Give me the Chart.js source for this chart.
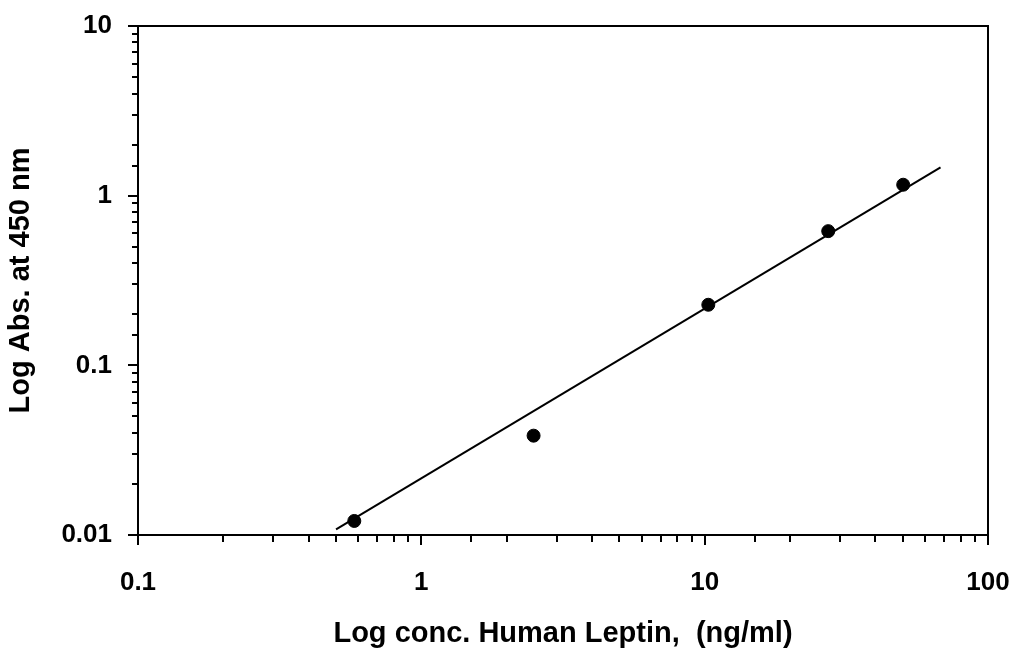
<!DOCTYPE html>
<html>
<head>
<meta charset="utf-8">
<script src="https://cdn.jsdelivr.net/npm/chart.js@4.4.1/dist/chart.umd.min.js"></script>
<style>
  html, body { margin: 0; padding: 0; background: #fff; }
  #wrap { width: 1015px; height: 648px; }
</style>
</head>
<body>
<div id="wrap"><canvas id="leptinChart" width="1015" height="648"></canvas></div>
<script>
// Dados
const concX = [0.58, 2.49, 10.3, 27.3, 50.2];       // ng/ml
const absY = [0.0121, 0.0385, 0.2275, 0.618, 1.16];  // Abs 450 nm
const fitX = [0.5, 68];                              // reta de ajuste
const fitY = [0.0108, 1.47];
const xTicks = [0.1, 1, 10, 100];
const yTicks = [0.01, 0.1, 1, 10];

const FONT = 'Liberation Sans, Arial, sans-serif';

// Desenha moldura e marcas de escala (maiores e menores) para fora
const axisBox = {
    id: 'axisBox',
    afterDraw(chart) {
        const ctx = chart.ctx;
        const a = chart.chartArea;
        ctx.save();
        ctx.strokeStyle = '#000';
        ctx.lineWidth = 2;
        ctx.strokeRect(a.left, a.top, a.right - a.left, a.bottom - a.top);

        const xs = chart.scales.x;
        xs.ticks.forEach(t => {
            const px = Math.round(xs.getPixelForValue(t.value));
            const len = xTicks.includes(t.value) ? 10 : 7;
            ctx.beginPath();
            ctx.moveTo(px, a.bottom);
            ctx.lineTo(px, a.bottom + len);
            ctx.stroke();
        });

        const ys = chart.scales.y;
        ys.ticks.forEach(t => {
            const py = Math.round(ys.getPixelForValue(t.value));
            const len = yTicks.includes(t.value) ? 10 : 6;
            ctx.beginPath();
            ctx.moveTo(a.left, py);
            ctx.lineTo(a.left - len, py);
            ctx.stroke();
        });
        ctx.restore();
    }
};

new Chart(document.getElementById('leptinChart'), {
    type: 'scatter',
    data: {
        datasets: [{
            label: 'Fit',
            data: fitX.map((x, i) => ({ x: x, y: fitY[i] })),
            showLine: true,
            borderColor: '#000',
            borderWidth: 2,
            pointRadius: 0
        }, {
            label: 'Leptin',
            data: concX.map((x, i) => ({ x: x, y: absY[i] })),
            backgroundColor: '#000',
            borderColor: '#000',
            pointRadius: 6.5
        }]
    },
    options: {
        responsive: false,
        animation: false,
        layout: { padding: { top: 26, right: 27, left: 0, bottom: 0 } },
        plugins: { legend: { display: false }, tooltip: { enabled: false } },
        scales: {
            x: {
                type: 'logarithmic',
                min: 0.1,
                max: 100,
                grid: { display: false },
                border: { display: false },
                afterFit: s => {
                    s.height = 113;
                    s.paddingLeft = 0;
                    s.paddingRight = 0;
                },
                ticks: {
                    color: '#000',
                    padding: 24,
                    maxRotation: 0,
                    autoSkip: false,
                    font: { family: FONT, size: 26, weight: 'bold' },
                    callback: v => xTicks.includes(v) ? String(v) : ''
                },
                title: {
                    display: true,
                    text: 'Log conc. Human Leptin,  (ng/ml)',
                    color: '#000',
                    padding: { top: 0, bottom: 0 },
                    font: { family: FONT, size: 29, weight: 'bold', lineHeight: 1 }
                }
            },
            y: {
                type: 'logarithmic',
                min: 0.01,
                max: 10,
                grid: { display: false },
                border: { display: false },
                afterFit: s => {
                    s.width = 138;
                    s.paddingTop = 0;
                    s.paddingBottom = 0;
                },
                ticks: {
                    color: '#000',
                    padding: 18,
                    autoSkip: false,
                    font: { family: FONT, size: 26, weight: 'bold' },
                    callback: v => yTicks.includes(v) ? String(v) : ''
                },
                title: {
                    display: true,
                    text: 'Log Abs. at 450 nm',
                    color: '#000',
                    padding: { top: 4, bottom: 0 },
                    font: { family: FONT, size: 29, weight: 'bold' }
                }
            }
        }
    },
    plugins: [axisBox]
});
</script>
</body>
</html>
